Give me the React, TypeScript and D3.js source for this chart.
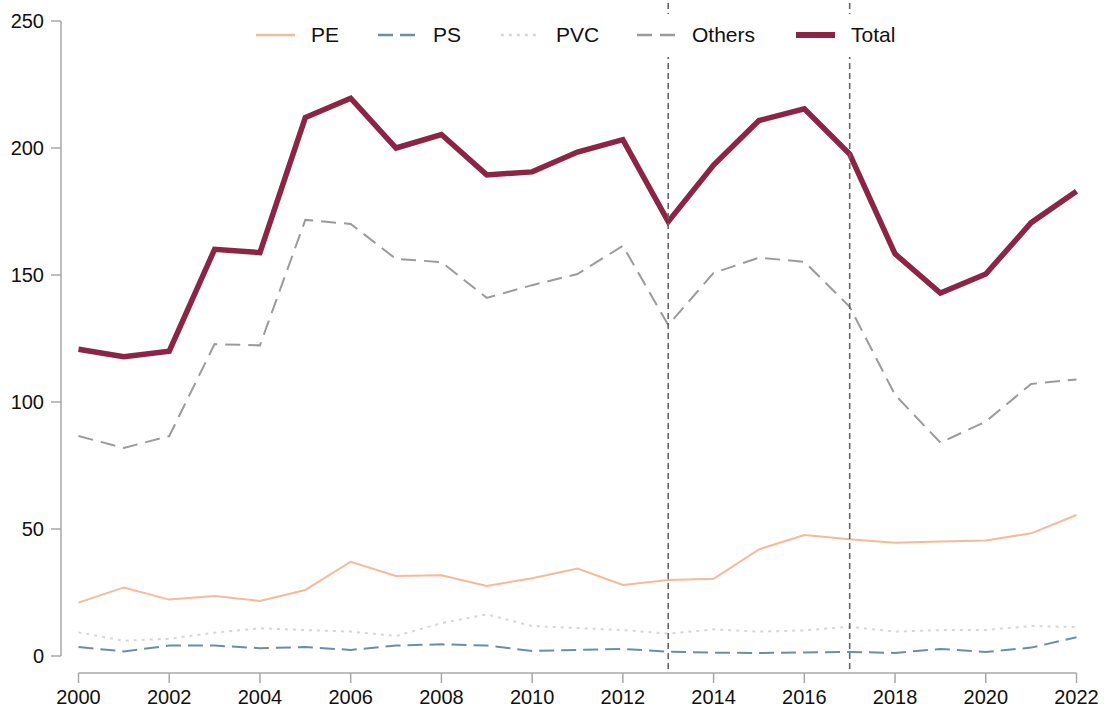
import React from "react";
import * as d3 from "d3";

const years = d3.range(2000, 2023);
const totalValues = [120.8, 117.8, 120, 160.1, 158.8, 212, 219.6, 200, 205.3, 189.4, 190.6, 198.4, 203.3, 171, 193.3, 210.8, 215.4, 197.6, 158.3, 142.9, 150.4, 170.6, 183];
const othersValues = [86.6, 81.9, 86.6, 122.8, 122.3, 171.7, 170.1, 156.3, 155.1, 141, 146, 150.4, 161.5, 130.3, 150.8, 156.8, 155.2, 137.5, 102.8, 84, 92.3, 107.1, 108.9];
const peValues = [21, 27, 22.2, 23.6, 21.7, 26, 37.1, 31.5, 31.8, 27.6, 30.6, 34.4, 28, 29.9, 30.4, 42, 47.6, 46, 44.6, 45.1, 45.5, 48.3, 55.5];
const pvcValues = [9.3, 6, 6.8, 9.2, 10.9, 10.2, 9.6, 7.9, 12.9, 16.4, 11.8, 11, 10.2, 8.8, 10.5, 9.6, 10.1, 11.5, 9.6, 10.2, 10.2, 11.8, 11.4];
const psValues = [3.5, 1.8, 4.1, 4.1, 3.1, 3.5, 2.4, 4.1, 4.6, 4.1, 2, 2.4, 2.8, 1.7, 1.3, 1.2, 1.4, 1.6, 1.2, 2.8, 1.6, 3.3, 7.4];
const yTicks = [0, 50, 100, 150, 200, 250];
const xTicks = d3.range(2000, 2023, 2);
const markerYears = [2013, 2017];

const seriesNames = ["PE", "PS", "PVC", "Others", "Total"];

const styles: Record<string, { color: string; width: number; dash?: string }> = {
  PE: { color: "#f5ba9a", width: 2 },
  PS: { color: "#6b8ea6", width: 2, dash: "15,7" },
  PVC: { color: "#dcd5d5", width: 2, dash: "3,5" },
  Others: { color: "#9b9b9b", width: 2, dash: "15,8" },
  Total: { color: "#8b2445", width: 5.5 },
};

const valuesByName: Record<string, number[]> = {
  PE: peValues,
  PS: psValues,
  PVC: pvcValues,
  Others: othersValues,
  Total: totalValues,
};

const drawOrder = ["PVC", "PS", "PE", "Others", "Total"];
const legendX = [256, 378, 501, 637, 796];

export default function App() {
  const x = d3.scaleLinear().domain([2000, 2022]).range([78.5, 1076.5]);
  const y = d3.scaleLinear().domain([0, 250]).range([656, 21]);
  const line = d3
    .line<[number, number]>()
    .x((d) => x(d[0]))
    .y((d) => y(d[1]));
  const font = "'Liberation Sans', Arial, Helvetica, sans-serif";
  const axisColor = "#a8a8a8";
  const xAxisY = 673;
  const yAxisX = 61;

  return (
    <svg
      width={1104}
      height={709}
      style={{ position: "absolute", left: 0, top: 0, background: "#fff" }}
      fontFamily={font}
    >
      <rect x={0} y={0} width={1104} height={709} fill="#fff" />
      {/* y axis */}
      <line x1={yAxisX} x2={yAxisX} y1={y(250)} y2={y(0)} stroke={axisColor} strokeWidth={1.5} />
      {yTicks.map((t) => (
        <g key={t}>
          <line x1={yAxisX - 10} x2={yAxisX} y1={y(t)} y2={y(t)} stroke={axisColor} strokeWidth={1.5} />
          <text x={44} y={y(t)} dy="0.35em" textAnchor="end" fontSize={20} fill="#111">
            {t}
          </text>
        </g>
      ))}
      {/* x axis */}
      <line x1={x(2000)} x2={x(2022)} y1={xAxisY} y2={xAxisY} stroke={axisColor} strokeWidth={1.5} />
      {xTicks.map((t) => (
        <g key={t}>
          <line x1={x(t)} x2={x(t)} y1={xAxisY} y2={xAxisY + 10} stroke={axisColor} strokeWidth={1.5} />
          <text x={x(t)} y={704} textAnchor="middle" fontSize={20} fill="#111">
            {t}
          </text>
        </g>
      ))}
      {/* series */}
      {drawOrder.map((name) => {
        const s = styles[name];
        const pts = years.map((yr, i) => [yr, valuesByName[name][i]] as [number, number]);
        return (
          <path
            key={name}
            d={line(pts) || ""}
            fill="none"
            stroke={s.color}
            strokeWidth={s.width}
            strokeDasharray={s.dash}
            strokeLinejoin="miter"
          />
        );
      })}
      {/* vertical markers */}
      {markerYears.map((yr) => (
        <line
          key={yr}
          x1={x(yr)}
          x2={x(yr)}
          y1={3}
          y2={xAxisY}
          stroke="#666"
          strokeWidth={1.6}
          strokeDasharray="6,4"
        />
      ))}
      {/* legend */}
      <rect x={245} y={14} width={670} height={43} fill="#fff" />
      {seriesNames.map((name, i) => {
        const s = styles[name];
        const lx = legendX[i];
        return (
          <g key={name}>
            <line
              x1={lx}
              x2={lx + 39}
              y1={35}
              y2={35}
              stroke={s.color}
              strokeWidth={s.width === 2 ? 2.5 : 6}
              strokeDasharray={s.dash}
            />
            <text x={lx + 55} y={35} dy="0.35em" fontSize={21} fill="#111">
              {name}
            </text>
          </g>
        );
      })}
    </svg>
  );
}
